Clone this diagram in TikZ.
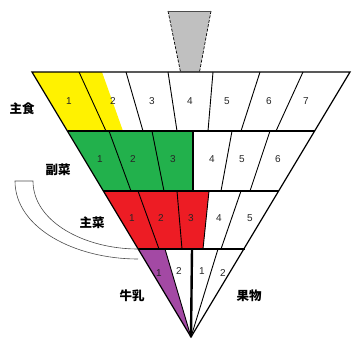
\documentclass[tikz,border=0pt]{standalone}
\usepackage{fontspec}
\setmainfont{Liberation Sans}
\newfontfamily\cjk{Noto Sans CJK JP}
\definecolor{cyel}{HTML}{FFF200}
\definecolor{cgrn}{HTML}{22B14C}
\definecolor{cred}{HTML}{ED1C24}
\definecolor{cpur}{HTML}{A349A4}
\definecolor{cgry}{HTML}{C0C0C0}
\tikzset{
  divline/.style={line width=0.9pt, black},
  rowline/.style={line width=1.6pt, black},
  edgeline/.style={line width=1.2pt, black},
  num/.style={font=\fontsize{10}{11}\selectfont, text=black!85, inner sep=0pt},
  jlabel/.style={font=\cjk\bfseries\fontsize{12.5}{13}\selectfont, inner sep=0pt},
  pipe/.style={line width=0.6pt, black!70},
}
\begin{document}
\begin{tikzpicture}[x=1pt,y=-1pt]
\useasboundingbox (0,0) rectangle (358,349);
% funnel
\fill[cgry] (168,11) -- (211,11) -- (199.5,72) -- (180.5,72) -- cycle;
\draw[line width=0.7pt, dash pattern=on 3pt off 1.5pt] (168,11) -- (180.5,72);
\draw[line width=0.7pt, dash pattern=on 3pt off 1.5pt] (211,11) -- (199.5,72);
\draw[line width=0.7pt, black!70] (168,11) -- (211,11);
% fills
\fill[cyel] (32,72) -- (102,72) -- (123,131) -- (68,131) -- cycle;
\fill[cgrn] (68,131) -- (193,131) -- (193,191) -- (103,191) -- cycle;
\fill[cred] (103,191) -- (209,191) -- (203,249) -- (138,249) -- cycle;
\fill[cpur] (138,249) -- (165,249) -- (191,337) -- cycle;
% row 1 dividers
\foreach \a/\b in {79/106,126/143,168/177,213/208,260/241,303/276}
  \draw[divline] (\a,72) -- (\b,131);
% row 2 dividers
\foreach \a/\b in {109/131,152/164,232/221,270/250}
  \draw[divline] (\a,131) -- (\b,191);
\draw[rowline] (193,131) -- (193,191);
% row 3 dividers
\foreach \a/\b in {138/159,177/182,209/203,241/221}
  \draw[divline] (\a,191) -- (\b,249);
% row 4
\draw[divline] (165,249) -- (191,337);
\draw[divline] (218,249) -- (191,337);
\draw[line width=2.4pt] (192,249) -- (191,337);
% outline and row lines
\draw[edgeline, line join=miter] (191,337) -- (32,72) -- (350,72) -- cycle;
\draw[rowline] (68,131) -- (315,131);
\draw[rowline] (103,191) -- (279,191);
\draw[rowline] (138,249) -- (245,249);
% pipe
\draw[pipe] (138,259) .. controls (75,259) and (15,228) .. (15,181) -- (33,181) .. controls (33,222) and (85,249) .. (138,249);
% numbers
\foreach \x/\t in {69/1,113/2,152/3,190/4,227/5,269/6,306/7}
  \node[num] (r1n\t) at (\x,101) {\t};
\foreach \x/\t in {100/1,133/2,173/3,212/4,242/5,278/6}
  \node[num] (r2n\t) at (\x,159) {\t};
\foreach \x/\t in {132/1,161/2,191/3,219/4,250/5}
  \node[num] (r3n\t) at (\x,218) {\t};
\node[num] (m1) at (159,273) {1};
\node[num] (m2) at (179,271) {2};
\node[num] (f1) at (202,271) {1};
\node[num] (f2) at (223,273) {2};
% labels
\node[jlabel] (shushoku) at (22,109) {主食};
\node[jlabel] (fukusai) at (58,170) {副菜};
\node[jlabel] (shusai) at (92,223) {主菜};
\node[jlabel] (gyunyu) at (132,296) {牛乳};
\node[jlabel] (kudamono) at (249,296) {果物};
\end{tikzpicture}
\end{document}
